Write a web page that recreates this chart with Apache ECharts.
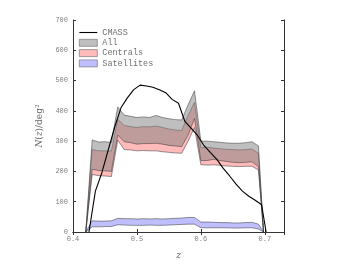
<!DOCTYPE html>
<html>
<head>
<meta charset="utf-8">
<script src="https://cdn.jsdelivr.net/npm/echarts@6/dist/echarts.min.js"></script>
<style>html,body{margin:0;padding:0;background:#fff}#c{width:346px;height:260px}</style>
</head>
<body>
<div id="c"></div>
<script>
// Redshift grid for the bands
const zBand = [0.42,0.43,0.44,0.45,0.46,0.47,0.48,0.49,0.50,0.51,0.52,0.53,0.54,0.55,0.56,0.57,0.58,0.59,0.60,0.61,0.62,0.63,0.64,0.65,0.66,0.67,0.68,0.69,0.698];
// All (gray band)
const allHi = [0,304,297,298,296,413,386,382,378,380,378,385,378,374,371,370,420,466,300,300,298,296,294,293,293,295,298,284,0];
const allLo = [0,207,203,202,200,320,298,295,290,292,292,293,290,286,284,282,320,375,236,236,240,236,233,230,229,230,232,216,0];
// Centrals (pink band)
const cenHi = [0,272,268,268,267,372,352,348,345,348,347,350,345,340,337,335,385,428,278,280,277,275,273,272,271,272,274,260,0];
const cenLo = [0,190,186,185,183,304,272,271,268,269,268,268,265,263,261,260,300,345,222,221,222,220,218,217,216,217,217,205,0];
// Satellites (blue band)
const satHi = [0,37,36,36,37,45,44,44,43,44,43,44,43,44,45,46,48,48,33,33,32,31,31,30,30,31,32,26,0];
const satLo = [0,17,17,18,18,24,23,22,22,22,23,22,22,23,24,25,26,26,14,14,14,14,14,13,13,14,14,10,0];
// CMASS line
const zCmass = [0.425,0.435,0.445,0.455,0.465,0.475,0.485,0.495,0.505,0.515,0.525,0.535,0.545,0.555,0.565,0.575,0.585,0.595,0.605,0.615,0.625,0.635,0.645,0.655,0.665,0.675,0.685,0.695,0.702];
const cmass = [0,135,195,270,345,410,443,470,485,482,478,470,460,438,425,365,342,318,285,262,240,210,185,158,135,118,105,90,0];

const xTicks = [0.4,0.5,0.6,0.7];
const yTicks = [0,100,200,300,400,500,600,700];

const edge = 'rgba(50,50,50,0.85)';
const colAll = 'rgba(128,128,128,0.5)';
const colCen = 'rgba(255,110,110,0.48)';
const colSat = 'rgba(128,128,255,0.5)';

function band(name, lo, hi, color, z) {
  return {
    type:'custom', name:name, z:z, animation:false,
    itemStyle:{color:color},
    encode:{x:0, y:[1,2]},
    data: zBand.map((x,i)=>[x, lo[i], hi[i]]),
    renderItem: function(params, api) {
      if (params.dataIndexInside !== 0) return null;
      const n = params.dataInsideLength;
      const up = [], dn = [];
      for (let i = 0; i < n; i++) {
        up.push(api.coord([api.value(0,i), api.value(2,i)]));
        dn.push(api.coord([api.value(0,i), api.value(1,i)]));
      }
      const poly = up.concat(dn.slice().reverse());
      return {type:'group', children:[
        {type:'polygon', shape:{points:poly}, style:{fill:color, stroke:null}},
        {type:'polyline', shape:{points:up}, style:{fill:null, stroke:edge, lineWidth:0.6}},
        {type:'polyline', shape:{points:dn}, style:{fill:null, stroke:edge, lineWidth:0.6}}
      ]};
    }
  };
}

const chart = echarts.init(document.getElementById('c'), null, {renderer:'canvas'});
const tickFont = {fontFamily:'Liberation Mono', fontSize:7, color:'#808080'};
const axisLine = {show:true, lineStyle:{color:'#333', width:1}};
chart.setOption({
  animation:false,
  grid:{left:73, right:62, top:20, bottom:28, containLabel:false, outerBoundsMode:'none'},
  legend:{
    orient:'vertical', left:79, top:28, padding:0, itemGap:1.3, itemWidth:18, itemHeight:7,
    textStyle:{fontFamily:'Liberation Mono', fontSize:8.5, color:'#707070'},
    data:[
      {name:'CMASS', icon:'path://M0,0h20v1.2H0z', itemStyle:{color:'#000'}},
      {name:'All', icon:'rect', itemStyle:{color:colAll, borderColor:'#666', borderWidth:0.6}},
      {name:'Centrals', icon:'rect', itemStyle:{color:colCen, borderColor:'#666', borderWidth:0.6}},
      {name:'Satellites', icon:'rect', itemStyle:{color:colSat, borderColor:'#666', borderWidth:0.6}}
    ]
  },
  xAxis:[
    {type:'value', min:0.4, max:0.73, interval:0.1, axisLine:axisLine,
     axisTick:{inside:true, length:3, lineStyle:{color:'#333'}},
     axisLabel:Object.assign({margin:4, showMaxLabel:false, formatter:v=>xTicks.some(t=>Math.abs(t-v)<1e-6)?v.toFixed(1):''}, tickFont),
     splitLine:{show:false},
     name:'z', nameLocation:'middle', nameGap:19,
     nameTextStyle:{fontFamily:'DejaVu Serif', fontStyle:'italic', fontSize:9, color:'#666'}},
    {type:'value', position:'top', min:0.4, max:0.73, interval:0.1, axisLine:axisLine,
     axisTick:{inside:true, length:3, lineStyle:{color:'#333'}}, axisLabel:{show:false}, splitLine:{show:false}}
  ],
  yAxis:[
    {type:'value', min:0, max:700, interval:100, axisLine:axisLine,
     axisTick:{inside:true, length:3, lineStyle:{color:'#333'}},
     axisLabel:Object.assign({margin:5, formatter:v=>yTicks.includes(v)?String(v):''}, tickFont),
     splitLine:{show:false},
     name:'{it|N}({it|z})/deg²', nameLocation:'middle', nameGap:28, nameRotate:90,
     nameTextStyle:{fontFamily:'DejaVu Serif', fontSize:9, color:'#666',
       rich:{it:{fontFamily:'DejaVu Serif', fontStyle:'italic', fontSize:9, color:'#666'}}}},
    {type:'value', position:'right', min:0, max:700, interval:100, axisLine:axisLine,
     axisTick:{inside:true, length:3, lineStyle:{color:'#333'}}, axisLabel:{show:false}, splitLine:{show:false}}
  ],
  series:[
    band('Satellites', satLo, satHi, colSat, 2),
    band('Centrals', cenLo, cenHi, colCen, 3),
    band('All', allLo, allHi, colAll, 4),
    {type:'line', name:'CMASS', z:6, data:zCmass.map((x,i)=>[x,cmass[i]]), symbol:'none', showSymbol:false,
     lineStyle:{width:1.1, color:'#000'}, itemStyle:{color:'#000'}, animation:false}
  ]
});
</script>
</body>
</html>
